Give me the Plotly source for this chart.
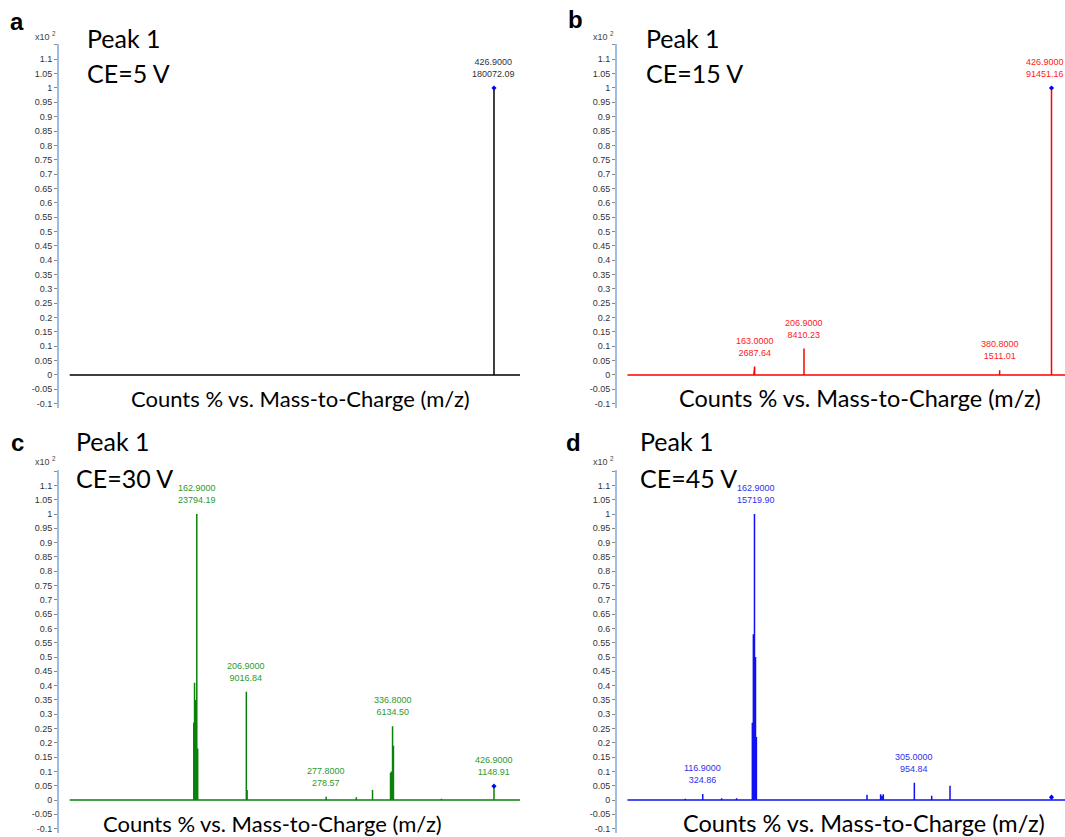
import plotly.graph_objects as go

# m/z window of every acquired spectrum
MZ_START, MZ_END = 50.0, 450.0

# ---------------- spectrum data (relative intensity, x10^2 %) ----------------
# a: CE = 5 V
a_mz = []
a_int = []
a_lab_mz = [426.9]
a_lab_counts = [180072.09]
a_base = 180072.09
a_prec = 1.0

# b: CE = 15 V
b_mz = [162.4, 336.1]
b_int = [0.006, 0.003]
b_lab_mz = [163.0, 206.9, 380.8, 426.9]
b_lab_counts = [2687.64, 8410.23, 1511.01, 91451.16]
b_base = 91451.16
b_prec = 1.0

# c: CE = 30 V
c_mz = [132.9, 160.2, 160.9, 161.6, 162.2, 163.7, 207.6, 304.6, 319.0,
        335.0, 335.8, 337.6, 380.2]
c_int = [0.003, 0.27, 0.41, 0.35, 0.23, 0.18, 0.035, 0.01, 0.035,
         0.095, 0.10, 0.19, 0.004]
c_lab_mz = [162.9, 206.9, 277.8, 336.8, 426.9]
c_lab_counts = [23794.19, 9016.84, 278.57, 6134.50, 1148.91]
c_base = 23794.19
c_prec = 1148.91 / 23794.19

# d: CE = 45 V
d_mz = [101.4, 133.7, 147.0, 161.0, 161.9, 163.8, 164.6, 187.6, 262.9,
        275.0, 276.0, 277.4, 320.4, 336.7, 426.9]
d_int = [0.004, 0.006, 0.006, 0.27, 0.58, 0.50, 0.22, 0.003, 0.018,
         0.02, 0.015, 0.02, 0.015, 0.05, 0.01]
d_lab_mz = [116.9, 162.9, 305.0]
d_lab_counts = [324.86, 15719.90, 954.84]
d_base = 15719.90
d_prec = 0.01

PREC_MZ = 426.9

Y_TICKS = [round(-0.1 + 0.05 * i, 2) for i in range(25)]   # -0.1 ... 1.1
Y_TOP_TICK = 1.15


def tick_text(v):
    s = f"{v:.2f}".rstrip("0").rstrip(".")
    return "0" if s in ("-0", "0") else s


panels = [
    dict(mz=a_mz, inten=a_int, lmz=a_lab_mz, lc=a_lab_counts, base=a_base,
         prec=a_prec, color="#000000", lcolor="#333333", ax=("x", "y")),
    dict(mz=b_mz, inten=b_int, lmz=b_lab_mz, lc=b_lab_counts, base=b_base,
         prec=b_prec, color="#FF0000", lcolor="#FF2020", ax=("x2", "y2")),
    dict(mz=c_mz, inten=c_int, lmz=c_lab_mz, lc=c_lab_counts, base=c_base,
         prec=c_prec, color="#0A820A", lcolor="#2E9A2E", ax=("x3", "y3")),
    dict(mz=d_mz, inten=d_int, lmz=d_lab_mz, lc=d_lab_counts, base=d_base,
         prec=d_prec, color="#1010F0", lcolor="#3030F0", ax=("x4", "y4")),
]

fig = go.Figure()
annotations = []

for p in panels:
    peaks = list(zip(p["mz"], p["inten"]))
    peaks += [(m, c / p["base"]) for m, c in zip(p["lmz"], p["lc"])]
    peaks.sort()
    xs, ys = [MZ_START], [0.0]
    for m, h in peaks:
        xs += [m, m, m]
        ys += [0.0, h, 0.0]
    xs.append(MZ_END)
    ys.append(0.0)
    xr, yr = p["ax"]
    fig.add_trace(go.Scatter(x=xs, y=ys, mode="lines", xaxis=xr, yaxis=yr,
                             line=dict(color=p["color"], width=1.5),
                             hoverinfo="skip", showlegend=False))
    # precursor marker
    fig.add_trace(go.Scatter(x=[PREC_MZ], y=[p["prec"]], mode="markers",
                             xaxis=xr, yaxis=yr,
                             marker=dict(color="#0000FF", size=4, symbol="diamond"),
                             hoverinfo="skip", showlegend=False))
    for m, c in zip(p["lmz"], p["lc"]):
        shift = 0
        if xr in ("x2", "x4") and m > 420:
            shift = -7          # keep the right-edge label inside the page
        elif xr == "x4" and 160 < m < 165:
            shift = 2           # clear of the panel title
        annotations.append(dict(
            x=m, y=c / p["base"], xref=xr, yref=yr,
            text=f"{m:.4f}<br>{c:.2f}", showarrow=False,
            yanchor="bottom", xanchor="center", yshift=7, xshift=shift,
            font=dict(family="Liberation Sans, Arial", size=9, color=p["lcolor"])))

W, H = 1065, 837
left_dom = [59 / W, 520 / W]
right_dom = [617 / W, 1.0]
top_dom = [1 - 408 / H, 1 - 43.5 / H]
bot_dom = [1 - 832.9 / H, 1 - 469.7 / H]
left_rng = [40.5, 450.0]
right_rng = [40.7, 438.9]
y_rng = [-0.115, 1.155]

xcommon = dict(showline=False, showticklabels=False, showgrid=False,
               zeroline=False, ticks="")
ycommon = dict(range=y_rng, tickmode="array", tickvals=Y_TICKS,
               ticktext=[tick_text(v) for v in Y_TICKS],
               showline=True, linecolor="#9DBDE6", linewidth=2,
               ticks="outside", ticklen=3, tickcolor="#888888", tickwidth=1,
               minor=dict(tickmode="array", tickvals=[Y_TOP_TICK], ticks="outside",
                          ticklen=3, tickcolor="#888888", tickwidth=1, showgrid=False),
               showgrid=False, zeroline=False,
               tickfont=dict(family="Liberation Sans, Arial", size=9, color="#333333"))

fig.update_layout(
    width=W, height=H, margin=dict(l=0, r=0, t=0, b=0),
    paper_bgcolor="white", plot_bgcolor="white",
    xaxis=dict(domain=left_dom, range=left_rng, anchor="y", **xcommon),
    yaxis=dict(domain=top_dom, anchor="x", **ycommon),
    xaxis2=dict(domain=right_dom, range=right_rng, anchor="y2", **xcommon),
    yaxis2=dict(domain=top_dom, anchor="x2", **ycommon),
    xaxis3=dict(domain=left_dom, range=left_rng, anchor="y3", **xcommon),
    yaxis3=dict(domain=bot_dom, anchor="x3", **ycommon),
    xaxis4=dict(domain=right_dom, range=right_rng, anchor="y4", **xcommon),
    yaxis4=dict(domain=bot_dom, anchor="x4", **ycommon),
)


def paper_text(text, x, y, size, family="Lato", color="#000000", xanchor="center", bold=False):
    t = f"<b>{text}</b>" if bold else text
    annotations.append(dict(text=t, x=x / W, y=1 - y / H, xref="paper", yref="paper",
                            xanchor=xanchor, yanchor="middle", showarrow=False,
                            font=dict(family=family, size=size, color=color)))


# panel letters
for letter, x, y in [("a", 17, 21), ("b", 576, 20), ("c", 17, 442), ("d", 573, 442)]:
    paper_text(letter, x, y, 24, family="Liberation Sans, Arial", bold=True)

# panel titles
titles = [("Peak 1", "CE=5 V", 85, 38, 73),
          ("Peak 1", "CE=15 V", 644, 38, 73),
          ("Peak 1", "CE=30 V", 74, 441, 478),
          ("Peak 1", "CE=45 V", 638, 441, 478)]
for l1, l2, x, y1, y2 in titles:
    paper_text(l1, x, y1, 25, xanchor="left")
    paper_text(l2, x, y2, 25, xanchor="left")

# x-axis captions
xcap = "Counts % vs. Mass-to-Charge (m/z)"
for x, y, s in [(300, 398, 22), (860, 398, 23.5), (272, 823, 22), (864, 823, 23.5)]:
    paper_text(xcap, x, y, s)

# intensity multiplier labels
for x, y in [(45, 36), (603, 36), (45, 461), (603, 461)]:
    paper_text("x10 <sup>2</sup>", x, y, 9, family="Liberation Sans, Arial", color="#444444")

fig.update_layout(annotations=annotations)
fig.write_html("out.html")
